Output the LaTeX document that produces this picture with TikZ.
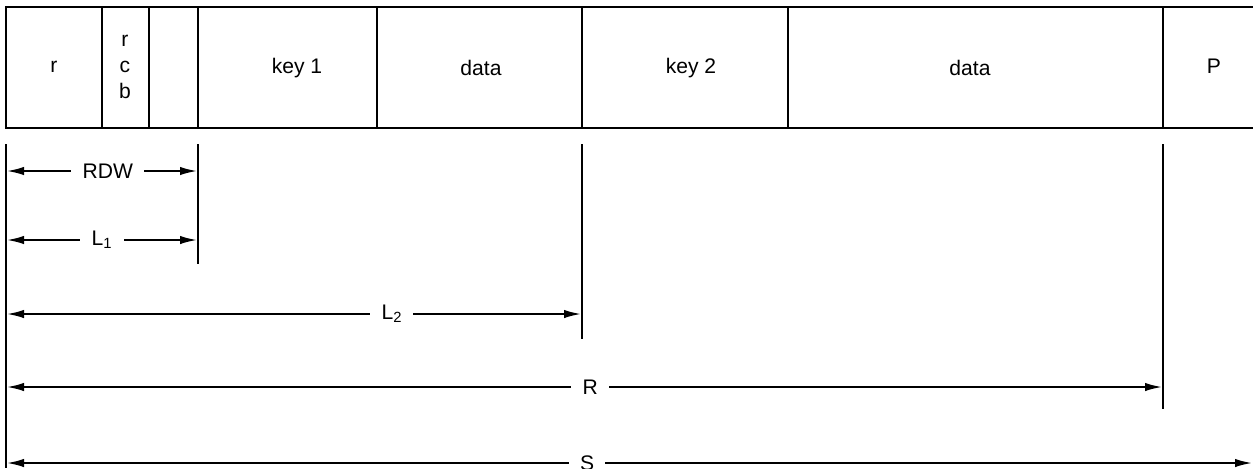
\documentclass[tikz,border=0pt]{standalone}
\usepackage{fontspec}
\setmainfont{Liberation Sans}
\usetikzlibrary{arrows.meta}

\tikzset{
  cell/.style={font=\fontsize{15}{16}\selectfont,inner sep=0pt},
  dimline/.style={{Latex[length=4.5mm,width=2.1mm]}-{Latex[length=4.5mm,width=2.1mm]}},
  dimlabel/.style={fill=white,inner xsep=8pt,inner ysep=1pt,font=\fontsize{15}{16}\selectfont}
}

\begin{document}
\begin{tikzpicture}[x=.25mm,y=-.25mm,line width=1.8pt]
  \useasboundingbox (0,0) rectangle (1253,468);
  % the record
  \draw (1253,7) -- (6,7) -- (6,128) -- (1253,128);
  \foreach \x in {102,149,198,377,582,788,1163}
           {\draw (\x,7) -- (\x,128);}
  \node[cell] (r) at (54,67) {r};
  \node[cell,align=center,font=\fontsize{15}{18.5}\selectfont] (rcb) at (125,67) {r\\c\\b};
  \node[cell] (keyA) at (297,68) {key 1};
  \node[cell] (dataA) at (481,68) {data};
  \node[cell] (keyB) at (691,68) {key 2};
  \node[cell] (dataB) at (970,68) {data};
  \node[cell] (p) at (1214,66) {P};
  %
  \draw (6,144) -- (6,468);
  \draw (198,144) -- (198,264);
  \draw (582,144) -- (582,339);
  \draw (1163,144) -- (1163,409);
  %
  \coordinate (rdwL) at (6,171);   \coordinate (rdwR) at (198,171);
  \coordinate (lAL) at (6,240);    \coordinate (lAR) at (198,240);
  \coordinate (lBL) at (6,314);    \coordinate (lBR) at (582,314);
  \coordinate (rL) at (6,387);     \coordinate (rR) at (1163,387);
  \coordinate (sL) at (6,463);     \coordinate (sR) at (1253,463);
  \draw[dimline] (rdwL) -- node[dimlabel,pos=.53] (rdw) {RDW} (rdwR);
  \draw[dimline] (lAL) -- node[dimlabel,pos=.5] (lA) {L\textsubscript{1}} (lAR);
  \draw[dimline] (lBL) -- node[dimlabel,pos=.67] (lB) {L\textsubscript{2}} (lBR);
  \draw[dimline] (rL) -- node[dimlabel,pos=.505] (rlen) {R} (rR);
  \draw[dimline] (sL) -- node[dimlabel,pos=.466] (slen) {S} (sR);
\end{tikzpicture}
\end{document}
